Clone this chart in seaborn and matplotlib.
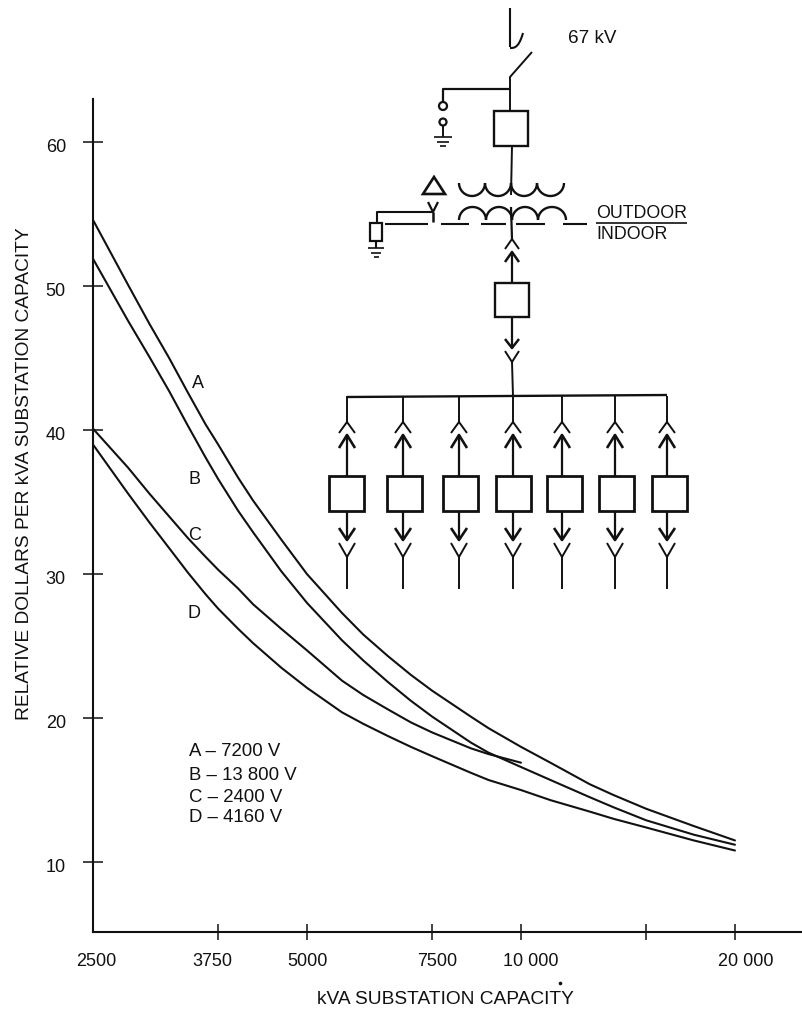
import numpy as np
import pandas as pd
import seaborn as sns
import matplotlib.pyplot as plt
from matplotlib.patches import Rectangle, Polygon, Circle
from matplotlib.transforms import ScaledTranslation

INK = '#111111'

# values
kva = [2500, 2800, 3000, 3200, 3400, 3600, 3750, 4000, 4200, 4600, 5000, 5600, 6000, 6500, 7000, 7500,
       8500, 9000, 10000, 11000, 12500, 13500, 15000, 17500, 20000]
curve_a = [54.6, 50.1, 47.4, 45.0, 42.6, 40.4, 39.0, 36.7, 35.1, 32.4, 30.0, 27.3, 25.8, 24.3, 23.0, 21.9,
           20.1, 19.3, 18.0, 16.9, 15.4, 14.65, 13.7, 12.5, 11.5]
curve_b = [51.9, 47.6, 45.1, 42.7, 40.3, 38.1, 36.6, 34.4, 32.9, 30.2, 28.0, 25.4, 24.0, 22.5, 21.2, 20.1,
           18.3, 17.6, 16.6, 15.7, 14.5, 13.8, 12.9, 11.9, 11.2]
curve_c = [40.1, 37.4, 35.6, 34.0, 32.5, 31.2, 30.3, 29.0, 27.9, 26.2, 24.7, 22.6, 21.6, 20.6, 19.7, 19.0,
           17.9, 17.5, 16.9]
curve_d = [39.0, 35.6, 33.6, 31.8, 30.1, 28.6, 27.6, 26.2, 25.2, 23.5, 22.1, 20.4, 19.6, 18.75, 18.0, 17.35,
           16.2, 15.7, 15.0, 14.3, 13.5, 13.0, 12.4, 11.5, 10.8]

x_ticks = [2500, 3750, 5000, 7500, 10000, 15000, 20000]
x_labels = ['2500', '3750', '5000', '7500', '10 000', '', '20 000']
y_ticks = [10, 20, 30, 40, 50, 60]
legend_lines = ['A – 7200 V', 'B – 13 800 V', 'C – 2400 V', 'D – 4160 V']

rows = []
for name, vals in zip('ABCD', [curve_a, curve_b, curve_c, curve_d]):
    for k, v in zip(kva, vals):
        rows.append({'kva': k, 'cost': v, 'curve': name})
df = pd.DataFrame(rows)

sns.set_style('ticks')
plt.rcParams['font.family'] = ['Liberation Sans', 'DejaVu Sans']
plt.rcParams['text.color'] = INK
plt.rcParams['axes.edgecolor'] = INK
plt.rcParams['xtick.color'] = INK
plt.rcParams['ytick.color'] = INK

W, H = 802, 1015
fig = plt.figure(figsize=(W / 100, H / 100), dpi=100)
ax = fig.add_axes([93 / W, 1 - 932 / H, (W - 93) / W, (932 - 99) / H])

sns.lineplot(data=df, x='kva', y='cost', hue='curve', palette=[INK] * 4, lw=1.5,
             estimator=None, legend=False, ax=ax, clip_on=False)
ax.set_xscale('log')
ax.set_xlim(2500, 24850)
ax.set_ylim(5.14, 63)
ax.minorticks_off()
ax.set_xticks(x_ticks)
ax.set_xticklabels(x_labels)
ax.set_yticks(y_ticks)
ax.tick_params(axis='y', direction='inout', length=14, width=1.1, labelsize=13, pad=12.5)
ax.tick_params(axis='x', direction='inout', length=12, width=1.1, labelsize=13, pad=9)
ax.xaxis.get_major_ticks()[0].tick1line.set_visible(False)
sns.despine(ax=ax)
ax.spines['left'].set_linewidth(1.5)
ax.spines['bottom'].set_linewidth(1.5)
ax.set_xlabel('')
ax.set_ylabel('')

# the tick labels sit a bit off their ticks in the scan
for lab, dx in zip(ax.get_xticklabels(), [3, -6, 1, 5, 10, 0, 11]):
    lab.set_transform(lab.get_transform() + ScaledTranslation(dx / 100, 0, fig.dpi_scale_trans))
for lab in ax.get_yticklabels():
    lab.set_transform(lab.get_transform() + ScaledTranslation(0, -3 / 100, fig.dpi_scale_trans))

# overlay in pixel coords for labels and the one-line diagram
ov = fig.add_axes([0, 0, 1, 1])
ov.set_xlim(0, W)
ov.set_ylim(H, 0)
ov.axis('off')
ov.patch.set_alpha(0)

ov.text(25, 474, 'RELATIVE DOLLARS PER kVA SUBSTATION CAPACITY', rotation=90, ha='center', va='center', fontsize=13.8)
ov.text(445.5, 1000, 'kVA SUBSTATION CAPACITY', ha='center', va='center', fontsize=13.8)
for s, px, py in [('A', 198, 384), ('B', 195, 479), ('C', 195, 535), ('D', 194, 613)]:
    ov.text(px, py, s, ha='center', va='center', fontsize=13)
for s, py in zip(legend_lines, [752, 775, 797, 818]):
    ov.text(189, py, s, ha='left', va='center', fontsize=13.4)
ov.plot([560], [983], marker='o', ms=1.6, color=INK)


def wire(xs, ys, lw=1.4):
    ov.plot(xs, ys, color=INK, lw=lw, solid_capstyle='butt')


def box(x0, y0, x1, y1, lw=1.7):
    ov.add_patch(Rectangle((x0, y0), x1 - x0, y1 - y0, fc='white', ec=INK, lw=lw, zorder=3))


def chevron(x, y, dy, half=7, lw=1.4):
    # dy < 0 opens downward from an apex pointing up
    wire([x - half, x, x + half], [y - dy, y, y - dy], lw=lw)


def ground(x, y, widths):
    for i, hw in enumerate(widths):
        wire([x - hw, x + hw], [y + i * 4.5, y + i * 4.5], lw=1.2)


def coil(x_nodes, y_flat, sag):
    for a, b in zip(x_nodes[:-1], x_nodes[1:]):
        t = np.linspace(0, np.pi, 30)
        xs = (a + b) / 2 - (b - a) / 2 * np.cos(t)
        ys = y_flat + sag * np.sin(t)
        wire(xs, ys, lw=1.7)


# incoming line, hook and disconnect
t = np.linspace(0, 1, 20)
wire([510, 510], [8, 47], lw=1.5)
wire(510 + 13 * t, 48 - 15 * t ** 3, lw=1.5)
wire([532, 510, 510], [52, 77, 111])
wire([510, 443, 443], [89, 89, 102], lw=1.6)
ov.add_patch(Circle((443, 106), 4, fc='white', ec=INK, lw=1.6))
ov.add_patch(Circle((443, 122), 3.5, fc='white', ec=INK, lw=1.6))
wire([443, 443], [126, 137])
ground(443, 137, [9, 6, 3])
box(494, 111, 528, 146)

# transformer
wire([512, 511], [146, 195])
coil([459, 485, 511, 537, 564], 183, 13)
coil([459, 486, 512, 538, 566], 220, -13)
wire([511, 512], [207, 239], lw=1.6)
for a, b in [(385, 428), (441, 469), (481, 506), (516, 545), (563, 587)]:
    wire([a, b], [224, 224], lw=1.5)
ov.add_patch(Polygon([(423, 194), (434, 177), (445, 194)], closed=True, fc='white', ec=INK, lw=1.9))
wire([428, 433, 438], [202, 212, 202], lw=1.6)
wire([433, 433], [212, 222], lw=1.8)
wire([433, 377, 377], [212, 212, 223], lw=1.5)
box(370, 223, 382, 241, lw=1.6)
wire([376, 376], [241, 248], lw=1.5)
ground(376, 248, [8, 5, 2.5])
ov.text(596, 213, 'OUTDOOR', ha='left', va='center', fontsize=12.8)
wire([596, 687], [223, 223], lw=1.2)
ov.text(596, 234, 'INDOOR', ha='left', va='center', fontsize=12.8)

# main breaker
chevron(512, 239, -10)
chevron(512, 252, -10, lw=1.8)
wire([512, 512], [252, 283], lw=1.6)
box(495, 283, 529, 317)
wire([512, 512], [317, 348], lw=1.6)
chevron(512, 348, 9, lw=1.8)
chevron(512, 362, 11)
wire([512, 513], [362, 396])

# bus and feeders
wire([347, 667], [397, 395], lw=1.7)
feeder_x = [347, 403, 459, 513, 562, 615, 667]
feeder_box = [329, 387, 443, 496, 547, 599, 652]
for fx, bx in zip(feeder_x, feeder_box):
    wire([fx, fx], [396, 422])
    chevron(fx, 422, -11, half=8)
    chevron(fx, 435, -13, half=8, lw=1.9)
    wire([fx, fx], [435, 476], lw=1.6)
    box(bx, 476, bx + 35, 511, lw=2)
    wire([fx, fx], [511, 540], lw=1.6)
    chevron(fx, 540, 12, half=8, lw=1.9)
    chevron(fx, 557, 14, half=8)
    wire([fx, fx], [557, 589])
ov.text(568, 38, '67 kV', ha='left', va='center', fontsize=13.6)

fig.savefig('out.png', dpi=100, facecolor='white')
